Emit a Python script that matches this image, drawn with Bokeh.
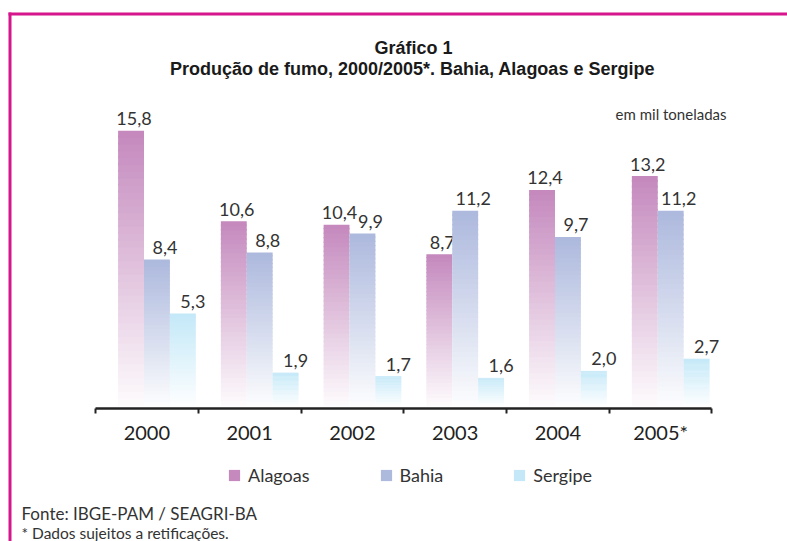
from bokeh.plotting import figure
from bokeh.models import (ColumnDataSource, Range1d, LinearAxis, FixedTicker, Legend,
                          LegendItem, Label, BoxAnnotation)
from bokeh.embed import file_html
from bokeh.resources import INLINE
from bokeh.core.properties import value

# ---- data ----
years = ["2000", "2001", "2002", "2003", "2004", "2005*"]
series_names = ["Alagoas", "Bahia", "Sergipe"]
alagoas = [15.8, 10.6, 10.4, 8.7, 12.4, 13.2]
bahia = [8.4, 8.8, 9.9, 11.2, 9.7, 11.2]
sergipe = [5.3, 1.9, 1.7, 1.6, 2.0, 2.7]

title1 = "Gráfico 1"
title2 = "Produção de fumo, 2000/2005*. Bahia, Alagoas e Sergipe"
unit_note = "em mil toneladas"
source_note = "Fonte: IBGE-PAM / SEAGRI-BA"
foot_note = "* Dados sujeitos a retificações."

# ---- styles ----
top_colors = [(196, 136, 189), (172, 184, 221), (195, 232, 248)]
offsets = [0.346, 0.598, 0.850]
label_dx = [3, 8, 10]
bar_w = 0.252
N = 40
MAGENTA = "#D6168C"
FONT = "Lato"
W, H = 787, 541

p = figure(width=W, height=H,
           min_border_left=0, min_border_right=0,
           min_border_top=0, min_border_bottom=0,
           x_range=Range1d(-0.9246, 6.7348), y_range=Range1d(-7.805, 23.287),
           x_axis_location=None, y_axis_location=None,
           toolbar_location=None, output_backend="svg",
           background_fill_color="white", border_fill_color="white")
p.outline_line_color = None
p.xgrid.visible = False
p.ygrid.visible = False


def mix(c, t):
    r = int(round(255 + (c[0] - 255) * t))
    g = int(round(255 + (c[1] - 255) * t))
    b = int(round(255 + (c[2] - 255) * t))
    return "#%02x%02x%02x" % (r, g, b)


legend_items = []
for s_idx, vals in enumerate([alagoas, bahia, sergipe]):
    xs, bots, tops, cols = [], [], [], []
    for i, v in enumerate(vals):
        for k in range(N):
            b = v * k / N
            t = v * (k + 1) / N
            xs.append(i + offsets[s_idx])
            bots.append(b)
            tops.append(t + (v / N) * 0.3 if k < N - 1 else t)
            frac = (k + 0.5) / N
            cols.append(mix(top_colors[s_idx], 0.03 + 0.97 * frac))
    src = ColumnDataSource(dict(x=xs, bottom=bots, top=tops, color=cols))
    r = p.vbar(x="x", bottom="bottom", top="top", width=bar_w, source=src,
               fill_color="color", line_color=None)
    # legend swatch uses the full-colour top slice of the first bar
    legend_items.append(LegendItem(label=series_names[s_idx], renderers=[r], index=N - 1))

    # value labels
    lab_src = ColumnDataSource(dict(
        x=[i + offsets[s_idx] for i in range(len(vals))],
        y=vals,
        txt=[f"{v:.1f}".replace(".", ",") for v in vals]))
    p.text(x="x", y="y", text="txt", source=lab_src, text_align="center",
           text_baseline="alphabetic", x_offset=label_dx[s_idx], y_offset=-12,
           text_font=value(FONT), text_font_size="18px", text_color="#333333")

# axis with boundary ticks and centered labels, fixed at the base line
ticker = FixedTicker(ticks=[i + 0.5 for i in range(len(years))],
                     minor_ticks=list(range(len(years) + 1)))
ax = LinearAxis(ticker=ticker, fixed_location=-0.161, bounds=(0, len(years)))
ax.major_label_overrides = {i + 0.5: y for i, y in enumerate(years)}
ax.major_tick_line_color = None
ax.major_tick_out = 0
ax.major_tick_in = 0
ax.minor_tick_out = 5
ax.minor_tick_in = 0
ax.minor_tick_line_width = 2
ax.minor_tick_line_color = "#222222"
ax.axis_line_width = 2.5
ax.axis_line_color = "#222222"
ax.major_label_standoff = 7
ax.major_label_text_font = FONT
ax.major_label_text_font_size = "20px"
ax.major_label_text_color = "#222222"
p.add_layout(ax, "below")

legend = Legend(items=legend_items, orientation="horizontal", location=(227, 55),
                spacing=69, glyph_width=14, glyph_height=14, label_standoff=7,
                label_text_font=FONT, label_text_font_size="18px",
                label_text_color="#333333", border_line_color=None,
                background_fill_alpha=0, margin=0, padding=0)
p.add_layout(legend, "center")

# magenta frame lines
p.add_layout(BoxAnnotation(left=8, right=W, top=12, bottom=15,
                           left_units="canvas", right_units="canvas",
                           top_units="canvas", bottom_units="canvas",
                           fill_color=MAGENTA, fill_alpha=1, line_color=None))
p.add_layout(BoxAnnotation(left=8, right=11, top=12, bottom=H,
                           left_units="canvas", right_units="canvas",
                           top_units="canvas", bottom_units="canvas",
                           fill_color=MAGENTA, fill_alpha=1, line_color=None))

# texts
p.add_layout(Label(x=413, y=47, x_units="canvas", y_units="canvas", text=title1,
                   text_align="center", text_baseline="middle",
                   text_font="Liberation Sans", text_font_style="bold",
                   text_font_size="18px", text_color="#1a1a1a"))
p.add_layout(Label(x=412, y=68, x_units="canvas", y_units="canvas", text=title2,
                   text_align="center", text_baseline="middle",
                   text_font="Liberation Sans", text_font_style="bold",
                   text_font_size="18px", text_color="#1a1a1a"))
p.add_layout(Label(x=726, y=113, x_units="canvas", y_units="canvas", text=unit_note,
                   text_align="right", text_baseline="middle",
                   text_font=FONT, text_font_size="15px", text_color="#333333"))
p.add_layout(Label(x=21, y=513, x_units="canvas", y_units="canvas", text=source_note,
                   text_align="left", text_baseline="middle",
                   text_font=FONT, text_font_size="17px", text_color="#333333"))
p.add_layout(Label(x=21, y=532, x_units="canvas", y_units="canvas", text=foot_note,
                   text_align="left", text_baseline="middle",
                   text_font=FONT, text_font_size="15.5px", text_color="#333333"))

open("out.html", "w").write(file_html(p, INLINE))
